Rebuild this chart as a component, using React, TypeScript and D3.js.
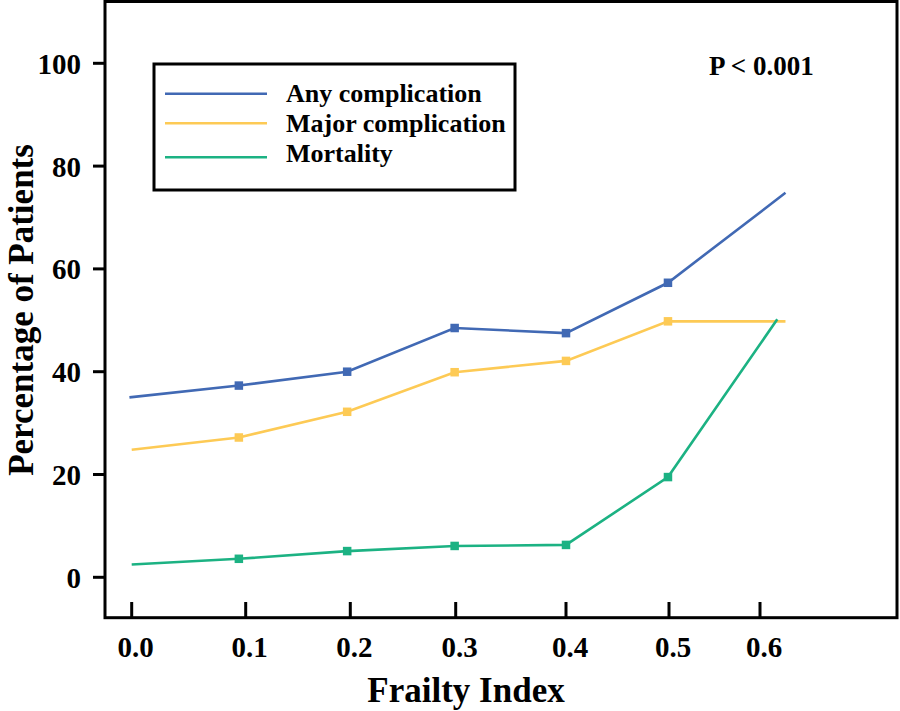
import React from "react";
import * as d3 from "d3";

const xTickValues = [0, 0.1, 0.2, 0.3, 0.4, 0.5, 0.6];
const xTickLabels = ["0.0", "0.1", "0.2", "0.3", "0.4", "0.5", "0.6"];
const yTickValues = [0, 20, 40, 60, 80, 100];

const seriesNames = ["Any complication", "Major complication", "Mortality"];
const seriesColors = ["#4169B4", "#FDCA55", "#1CB283"];

const anyX = [-0.002, 0.094, 0.197, 0.299, 0.4, 0.499, 0.628];
const anyY = [35, 37.3, 40, 48.5, 47.5, 57.3, 74.8];
const majorX = [0, 0.094, 0.197, 0.299, 0.4, 0.499, 0.628];
const majorY = [24.8, 27.2, 32.2, 39.9, 42.1, 49.8, 49.8];
const mortX = [0, 0.094, 0.197, 0.299, 0.4, 0.499, 0.619];
const mortY = [2.5, 3.6, 5.1, 6.1, 6.3, 19.5, 50.2];

// markers shown only on interior points
const markerIdx = [1, 2, 3, 4, 5];

const W = 900;
const H = 711;
const frame = { left: 105, top: 1.5, right: 897, bottom: 617.7 };

export default function App() {
  // piecewise-linear scale matching the irregular tick placement of the original
  const x = d3
    .scaleLinear()
    .domain(xTickValues)
    .range([131.7, 245.7, 350.3, 455.7, 566, 669, 760]);
  const y = d3.scaleLinear().domain([0, 100]).range([577.3, 63.3]);

  const series = [
    { xs: anyX, ys: anyY },
    { xs: majorX, ys: majorY },
    { xs: mortX, ys: mortY },
  ];

  const line = d3
    .line<[number, number]>()
    .x((d) => x(d[0]))
    .y((d) => y(d[1]));

  const font = "'Liberation Serif', 'Times New Roman', serif";
  const ms = 8.5;

  return (
    <svg
      width={W}
      height={H}
      style={{ position: "absolute", left: 0, top: 0, background: "#fff" }}
      fontFamily={font}
      fontWeight="bold"
    >
      <rect x={0} y={0} width={W} height={H} fill="#fff" />
      {/* frame */}
      <rect
        x={frame.left}
        y={frame.top}
        width={frame.right - frame.left}
        height={frame.bottom - frame.top}
        fill="none"
        stroke="#000"
        strokeWidth={3}
      />
      {/* y ticks */}
      {yTickValues.map((v) => (
        <g key={"y" + v}>
          <line x1={93} x2={frame.left} y1={y(v)} y2={y(v)} stroke="#000" strokeWidth={3} />
          <text x={81} y={y(v) + 10.5} textAnchor="end" fontSize={29}>
            {v}
          </text>
        </g>
      ))}
      {/* x ticks */}
      {xTickValues.map((v, i) => (
        <g key={"x" + v}>
          <line x1={x(v)} x2={x(v)} y1={602} y2={frame.bottom} stroke="#000" strokeWidth={3} />
          <text x={x(v) + 4} y={657} textAnchor="middle" fontSize={29}>
            {xTickLabels[i]}
          </text>
        </g>
      ))}
      {/* axis titles */}
      <text x={466} y={702} textAnchor="middle" fontSize={35}>
        Frailty Index
      </text>
      <text
        transform={`translate(33, 310) rotate(-90)`}
        textAnchor="middle"
        fontSize={35}
      >
        Percentage of Patients
      </text>
      {/* series */}
      {series.map((s, si) => {
        const pts: [number, number][] = s.xs.map((xv, i) => [xv, s.ys[i]]);
        return (
          <g key={"s" + si}>
            <path d={line(pts) || ""} fill="none" stroke={seriesColors[si]} strokeWidth={2.6} />
            {markerIdx.map((i) => (
              <rect
                key={i}
                x={x(pts[i][0]) - ms / 2}
                y={y(pts[i][1]) - ms / 2}
                width={ms}
                height={ms}
                fill={seriesColors[si]}
              />
            ))}
          </g>
        );
      })}
      {/* legend */}
      <rect x={154} y={64} width={361} height={126} fill="#fff" stroke="#000" strokeWidth={3} />
      {seriesNames.map((n, i) => {
        const ly = [93.7, 123.3, 157.3][i];
        const ty = [101.7, 131.7, 161.7][i];
        return (
          <g key={"l" + i}>
            <line x1={165} x2={267} y1={ly} y2={ly} stroke={seriesColors[i]} strokeWidth={2.6} />
            <text x={286} y={ty} fontSize={26}>
              {n}
            </text>
          </g>
        );
      })}
      {/* p-value */}
      <text x={709} y={75} fontSize={27}>
        P &lt; 0.001
      </text>
    </svg>
  );
}
